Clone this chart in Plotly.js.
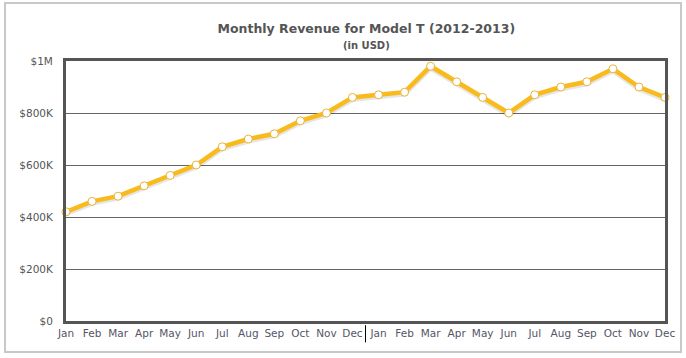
<!DOCTYPE html>
<html>
<head>
<meta charset="utf-8">
<script src="https://cdn.plot.ly/plotly-3.0.1.min.js"></script>
<style>
html,body{margin:0;padding:0;background:#fff;}
#chart{width:686px;height:358px;}
</style>
</head>
<body>
<div id="chart"></div>
<script>
const months = ["Jan","Feb","Mar","Apr","May","Jun","Jul","Aug","Sep","Oct","Nov","Dec",
                "Jan","Feb","Mar","Apr","May","Jun","Jul","Aug","Sep","Oct","Nov","Dec"];
const years = [2012,2012,2012,2012,2012,2012,2012,2012,2012,2012,2012,2012,
               2013,2013,2013,2013,2013,2013,2013,2013,2013,2013,2013,2013];
const revenue = [420000,460000,480000,520000,560000,600000,670000,700000,720000,770000,800000,860000,
                 870000,880000,980000,920000,860000,800000,870000,900000,920000,970000,900000,860000];
const yTickVals = [0,200000,400000,600000,800000,1000000];
const yTickText = ["$0","$200K","$400K","$600K","$800K","$1M"];

const xIdx = months.map((m,i)=>i);
const lineColor = "#F9BB1C";
const shadowShift = 2 * 1000000 / 260;

// anchors the main (tick-bearing) y axis; invisible
const anchor = {
  x: xIdx, y: revenue, type: "scatter", mode: "lines",
  xaxis: "x", yaxis: "y", hoverinfo: "skip",
  line: {color: "rgba(0,0,0,0)", width: 0},
  showlegend: false
};
const shadow = {
  x: xIdx, y: revenue, type: "scatter", mode: "lines",
  xaxis: "x", yaxis: "y2", hoverinfo: "skip",
  line: {color: "rgba(0,0,0,0.10)", width: 5},
  cliponaxis: false, showlegend: false
};
const main = {
  x: xIdx, y: revenue, type: "scatter", mode: "lines+markers",
  xaxis: "x", yaxis: "y3",
  text: months.map((m,i)=>m+" "+years[i]),
  line: {color: lineColor, width: 4.5},
  marker: {size: 8, color: "#ffffff", line: {color: "#E9B43A", width: 1}},
  cliponaxis: false, showlegend: false
};

// year divider between Dec and Jan
const divider = (months.indexOf("Dec") + months.lastIndexOf("Jan")) / 2;

const layout = {
  width: 686, height: 358,
  margin: {l: 66, r: 21, t: 61, b: 37},
  paper_bgcolor: "#ffffff", plot_bgcolor: "#ffffff",
  font: {family: "DejaVu Sans, Verdana, sans-serif", color: "#555555", size: 10},
  title: {
    text: "<b>Monthly Revenue for Model T (2012-2013)</b><br><span style='font-size:10px'><b>(in USD)</b></span>",
    font: {family: "DejaVu Sans, sans-serif", size: 12.5, color: "#555555"},
    x: 0.534, xanchor: "center", xref: "container",
    y: 1 - 33/358, yanchor: "top", yref: "container"
  },
  xaxis: {
    range: [0, months.length - 1],
    tickmode: "array", tickvals: xIdx, ticktext: months,
    showgrid: false, zeroline: false,
    showline: true, mirror: true, linecolor: "#555555", linewidth: 3,
    ticks: "", 
    tickfont: {size: 10.5, color: "#555566"}, fixedrange: true
  },
  yaxis: {
    range: [0, 1000000],
    tickmode: "array", tickvals: yTickVals, ticktext: yTickText,
    showgrid: true, gridcolor: "#666666", gridwidth: 1,
    zeroline: false,
    showline: true, mirror: true, linecolor: "#555555", linewidth: 3,
    ticks: "outside", ticklen: 8, tickcolor: "rgba(0,0,0,0)",
    tickfont: {size: 10.5, color: "#555555"}, fixedrange: true
  },
  yaxis2: {
    overlaying: "y", range: [shadowShift, 1000000 + shadowShift],
    visible: false, fixedrange: true
  },
  yaxis3: {
    overlaying: "y", range: [0, 1000000],
    visible: false, fixedrange: true
  },
  shapes: [
    {type: "line", xref: "x", yref: "paper", x0: divider, x1: divider,
     y0: -0.016, y1: -0.082, line: {color: "#000000", width: 1}},
    {type: "rect", xref: "paper", yref: "paper",
     x0: -61/599, x1: 615/599, y0: -31/260, y1: 318/260,
     line: {color: "#c8c8c8", width: 2}, layer: "below"}
  ]
};

Plotly.newPlot("chart", [anchor, shadow, main], layout, {displayModeBar: false, staticPlot: true});
</script>
</body>
</html>
